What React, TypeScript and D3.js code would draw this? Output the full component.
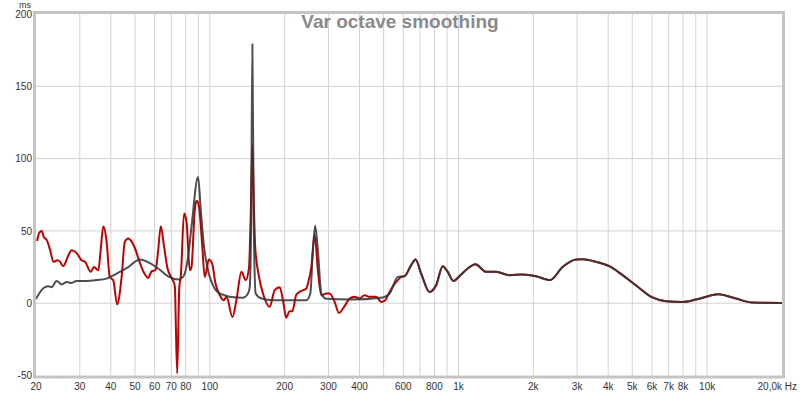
import * as d3 from "d3";

// grid / tick positions
const xGridHz = [
  30, 40, 50, 60, 70, 80, 90, 100, 200, 300, 400, 500, 600, 700, 800, 900,
  1000, 2000, 3000, 4000, 5000, 6000, 7000, 8000, 9000, 10000,
];
const xLabelHz = [20, 30, 40, 50, 60, 70, 80, 100, 200, 300, 400, 600, 800, 1000, 2000, 3000, 4000, 5000, 6000, 7000, 8000, 10000];
const xLabelText = ["20", "30", "40", "50", "60", "70", "80", "100", "200", "300", "400", "600", "800", "1k", "2k", "3k", "4k", "5k", "6k", "7k", "8k", "10k"];
const yGridMs = [0, 50, 100, 150];
const yLabelMs = [200, 150, 100, 50, 0, -50];

// [Hz, ms] — dark trace below ~600 Hz
const greyLow: [number, number][] = [
  [20, 3], [21.4, 10.4], [22.4, 11.8], [23.1, 11], [24.2, 15.4], [25.4, 13], [26.6, 14.7], [27.8, 14],
  [29.1, 15.4], [32, 15.4], [35.1, 16], [38.4, 17], [42.2, 20.5], [47, 25], [52.3, 30.2], [62, 24],
  [68, 18.5], [74.6, 16.4], [78.1, 18.2], [81.8, 32], [84.4, 52.8], [89.7, 87.3], [92, 64.3], [94.8, 39],
  [98.4, 22.8], [104.7, 10], [109.7, 6.7], [114.8, 5.5], [120.3, 4.4], [135.6, 3.7], [142.4, 6.7],
  [144.7, 11], [146.7, 60], [148.3, 179], [150.1, 60], [152.9, 6.7], [161.2, 3.2], [179.5, 2],
  [244.4, 2], [253.6, 6.7], [259.8, 36.7], [265.2, 53.5], [272, 36.7], [280.8, 6.7], [294.2, 3],
  [364.8, 2.5], [496.4, 4], [528.2, 6.7], [570.2, 18.2],
];

// red trace below ~600 Hz
const redLow: [number, number][] = [
  [20.2, 43], [20.6, 48.6], [21.1, 50], [21.5, 45.8], [22.1, 43.6], [22.8, 36.7], [23.5, 28.6], [24.4, 29.7],
  [25, 28.6], [25.7, 25.6], [27, 33.2], [27.8, 36.7], [29.1, 34.8], [30.5, 29.7], [31.5, 28.6], [33.2, 21.7],
  [34.2, 25.1], [35.6, 22.8], [36.4, 36.7], [37.3, 53.3], [38.4, 43.6], [39.6, 18.2], [40.9, 15.9],
  [42.4, -0.9], [44.2, 18.2], [45.5, 42.4], [47, 44.7], [47.7, 44], [50, 38], [52.3, 28], [54.8, 20],
  [56.5, 17.5], [58.3, 22], [60.5, 23], [62, 36.7], [63.5, 53.3], [65.5, 38.9], [67.6, 24], [70.2, 17.5],
  [72.3, 12], [73.9, -48.6], [75.4, 11.3], [76.4, 18.2], [78.8, 62], [80.6, 56.2], [83.1, 22.8],
  [84.4, 25.1], [87, 64.3], [88.4, 70.8], [90.3, 67.8], [93.1, 41.3], [95.4, 18.2], [97, 22.8], [99, 30.2],
  [102.1, 27.5], [105.4, 13.6], [109.7, 5.5], [113.8, 2], [116.7, 4.4], [123.3, -9.5], [127.9, 2],
  [134, 21.7], [139.4, 15.9], [143.8, 25], [146, 60], [148.3, 109], [150.8, 60], [152.2, 39], [157.7, 18.2],
  [163.6, 6.7], [174.1, -2.5], [182.3, 9], [191, 11], [196.9, 2], [202.8, -10], [209.4, -5.5],
  [214.8, -5.5], [222.9, 6], [233.4, 8.5], [244.4, 10.2], [248.1, 13.6], [256, 25], [264, 47.5],
  [272, 22.8], [280.8, 5.5], [294.2, 6.7], [303.3, 6.7], [317.6, 0.9], [330.4, -6.7], [348.3, -2],
  [364.8, 3.2], [382, 4.4], [400.2, 3.2], [419.2, 5.5], [439, 4.4], [467, 4.4], [489.2, 0.9], [504.2, 1.6],
  [528.2, 7.8], [561.8, 14.7], [588.4, 18.2],
];

// above ~600 Hz both traces lie on top of each other
const shared: [number, number][] = [
  [606.8, 18.7], [645.6, 26.3], [671.8, 30.2], [708, 20.5], [764.4, 7.8], [813.2, 12.4], [864.2, 25.6],
  [905.2, 21.7], [954.4, 15.4], [1009, 18.7], [1089, 24], [1170, 27], [1291, 21.7], [1417, 21.7],
  [1602, 19.4], [1812, 19.8], [2050, 18.7], [2335, 16], [2622, 25], [2968, 30.2], [3156, 30.4],
  [3572, 28.6], [4039, 25.6], [4568, 19.4], [5170, 12.4], [6026, 4], [6823, 1.4], [7957, 0.9],
  [9005, 2.5], [11098, 6.2], [13038, 3.2], [15196, 0.5], [20000, 0.2],
];

const W = 800;
const H = 394;
const left = 36, right = 782, top = 14, bottom = 375.5;

export default function App() {
  const x = d3.scaleLog().domain([20, 20000]).range([left, right]);
  const y = d3.scaleLinear().domain([-50, 200]).range([bottom, top]);

  const line = d3.line<[number, number]>()
    .x((d) => x(d[0]))
    .y((d) => y(d[1]))
    .curve(d3.curveMonotoneX);

  const redPath = line([...redLow, ...shared]) ?? "";
  const greyPath = line([...greyLow, ...shared]) ?? "";

  const font = "'Liberation Sans', Arial, sans-serif";

  return (
    <svg width={W} height={H} style={{ position: "absolute", left: 0, top: 0, background: "#fff" }}>
      <rect x={0} y={0} width={W} height={H} fill="#fff" />
      {/* grid */}
      {xGridHz.map((f) => (
        <line key={"gx" + f} x1={x(f)} x2={x(f)} y1={top} y2={bottom} stroke="#d2d2d2" strokeWidth={1} />
      ))}
      {yGridMs.map((v) => (
        <line key={"gy" + v} x1={left} x2={right} y1={y(v)} y2={y(v)} stroke="#d2d2d2" strokeWidth={1} />
      ))}

      {/* title */}
      <text x={400} y={28} textAnchor="middle" fontFamily={font} fontWeight="bold" fontSize={19} fill="#8a8a8a">
        Var octave smoothing
      </text>

      {/* traces */}
      <path d={redPath} fill="none" stroke="#c00000" strokeWidth={2} strokeLinejoin="round" />
      <path d={greyPath} fill="none" stroke="#363636" strokeWidth={2} strokeOpacity={0.88} strokeLinejoin="round" />

      {/* frame */}
      <rect x={left - 1.5} y={top - 1.5} width={right - left + 3} height={bottom - top + 3}
        fill="none" stroke="#c4c4c4" strokeWidth={3} />

      {/* y labels */}
      {yLabelMs.map((v) => (
        <text key={"ly" + v} x={32} y={y(v)} dy="0.38em" textAnchor="end" fontFamily={font} fontSize={10} fill="#333">
          {v}
        </text>
      ))}
      <text x={25} y={7.5} textAnchor="middle" fontFamily={font} fontSize={9} fill="#333">ms</text>

      {/* x labels */}
      {xLabelHz.map((f, i) => (
        <text key={"lx" + f} x={x(f)} y={390} textAnchor="middle" fontFamily={font} fontSize={10} fill="#333">
          {xLabelText[i]}
        </text>
      ))}
      <text x={797} y={390} textAnchor="end" fontFamily={font} fontSize={10} fill="#333">20,0k Hz</text>
    </svg>
  );
}
